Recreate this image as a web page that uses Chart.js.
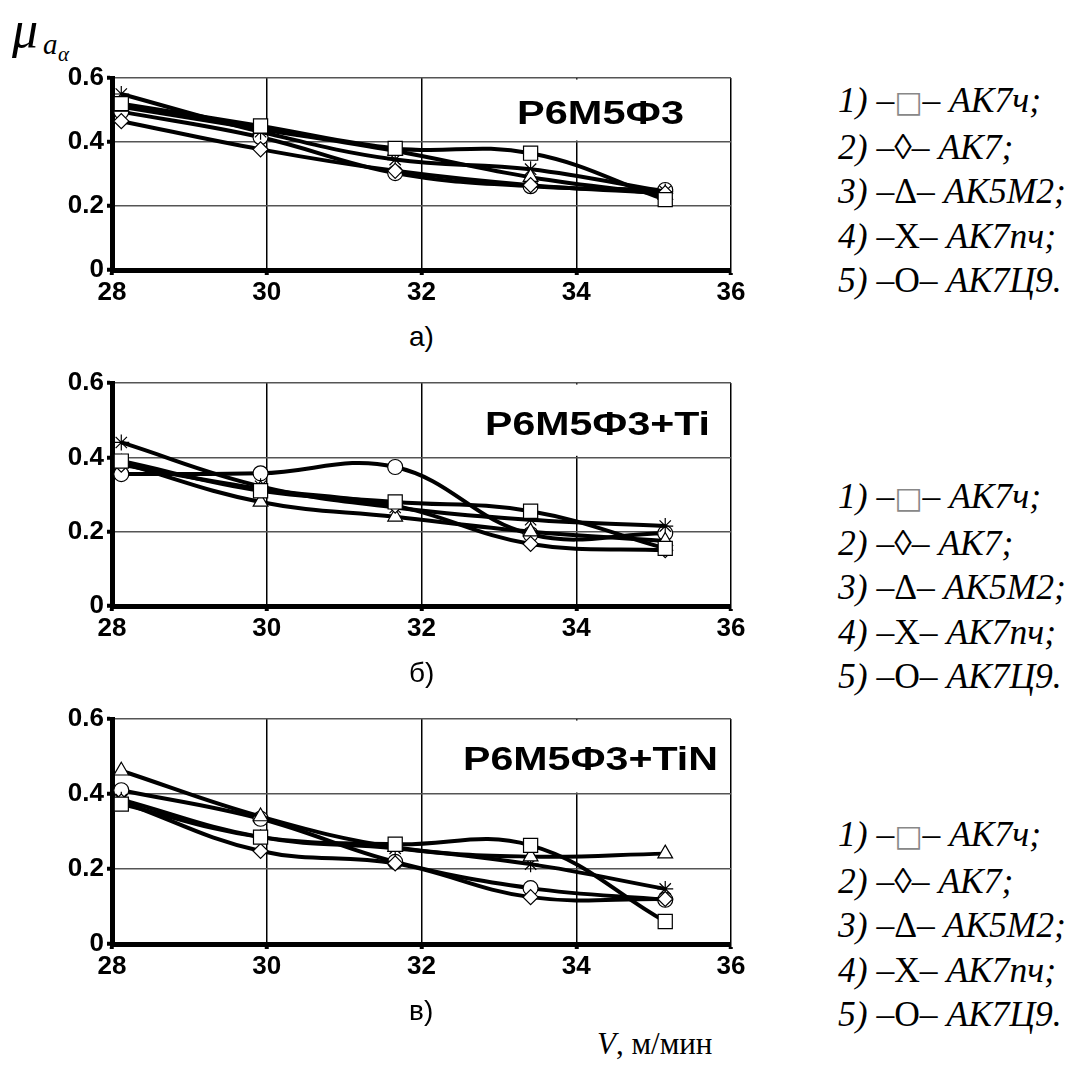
<!DOCTYPE html>
<html>
<head>
<meta charset="utf-8">
<script src="https://cdn.jsdelivr.net/npm/chart.js@4.4.1/dist/chart.umd.min.js"></script>
<style>
  html, body { margin: 0; padding: 0; background: #fff; }
  body { width: 1083px; height: 1070px; position: relative; overflow: hidden; }
  canvas { position: absolute; left: 0; }
  .sub { position: absolute; font-family: "Liberation Sans", Arial, sans-serif; font-size: 28px; color: #000; white-space: nowrap; }
  .legend { position: absolute; left: 838px; font-family: "Liberation Serif", "Times New Roman", serif; font-style: italic; font-size: 35.5px; line-height: 44.5px; color: #000; white-space: nowrap; }
  .legend .sym { font-style: normal; }
  .legend .sq { font-style: normal; color: #888; font-family: "DejaVu Sans", sans-serif; font-size: 30px; }
  .mu { position: absolute; left: 12px; top: 0px; font-family: "Liberation Serif", serif; font-style: italic; color: #000; }
  .vlabel { position: absolute; left: 597px; top: 1026px; font-family: "Liberation Serif", serif; font-size: 31px; color: #000; white-space: nowrap; }
</style>
</head>
<body>
<div class="mu"><span style="font-size:52px">μ</span><span style="position:absolute;left:31px;top:28px;font-size:29px">a</span><span style="position:absolute;left:46px;top:42px;font-size:21px">α</span></div>

<canvas id="chartA" width="760" height="252" style="top:58px"></canvas>
<canvas id="chartB" width="760" height="283" style="top:363px"></canvas>
<canvas id="chartC" width="760" height="285" style="top:699px"></canvas>

<div class="sub" style="left:409px;top:321px">а)</div>
<div class="sub" style="left:409px;top:657px">б)</div>
<div class="sub" style="left:409px;top:995px">в)</div>

<div class="legend" id="legendA" style="top:78px"></div>
<div class="legend" id="legendB" style="top:474px"></div>
<div class="legend" id="legendC" style="top:812px"></div>

<div class="vlabel"><i>V</i>, м/мин</div>

<script>
// скорость резания, м/мин
const speeds = [28.12, 29.92, 31.66, 33.41, 35.15];
const xTickLabels = ['28', '30', '32', '34', '36'];
const yTickLabels = ['0', '0.2', '0.4', '0.6'];

const alloyNames = ['АК7ч', 'АК7', 'АК5М2', 'АК7пч', 'АК7Ц9'];
const legendNums = ['1)', '2)', '3)', '4)', '5)'];
const legendSymbols = ['□', '◊', 'Δ', 'X', 'O'];

// а) Р6М5Ф3
const aAK7ch  = [0.52, 0.45, 0.38, 0.365, 0.22];
const aAK7    = [0.465, 0.377, 0.31, 0.265, 0.24];
const aAK5M2  = [0.51, 0.44, 0.372, 0.29, 0.235];
const aAK7pch = [0.55, 0.432, 0.345, 0.315, 0.245];
const aAK7C9  = [0.495, 0.415, 0.303, 0.262, 0.25];

// б) Р6М5Ф3+Ti
const bAK7ch  = [0.39, 0.31, 0.28, 0.255, 0.155];
const bAK7    = [0.38, 0.315, 0.27, 0.167, 0.15];
const bAK5M2  = [0.385, 0.28, 0.24, 0.2, 0.175];
const bAK7pch = [0.44, 0.322, 0.265, 0.232, 0.215];
const bAK7C9  = [0.355, 0.357, 0.374, 0.193, 0.196];

// в) Р6М5Ф3+TiN
const cAK7ch  = [0.373, 0.285, 0.266, 0.263, 0.06];
const cAK7    = [0.38, 0.248, 0.215, 0.125, 0.12];
const cAK5M2  = [0.462, 0.34, 0.258, 0.233, 0.241];
const cAK7pch = [0.385, 0.285, 0.255, 0.213, 0.147];
const cAK7C9  = [0.41, 0.334, 0.219, 0.149, 0.118];

// маркеры серий: квадрат, ромб, треугольник, звезда, круг
const markerStyles = ['rect', 'rectRot', 'triangle', 'star', 'circle'];
const markerRadius = [10, 7.5, 8.5, 8, 7.5];

// белая подложка под заголовком + сам заголовок
const titlePlugin = {
  id: 'panelTitle',
  beforeDatasetsDraw(chart, args, opts) {
    const { ctx, chartArea, scales } = chart;
    const y04 = scales.y.getPixelForValue(0.4);
    ctx.save();
    ctx.fillStyle = '#fff';
    ctx.fillRect(opts.left - 10, chartArea.top + 1.5, chartArea.right - 1.5 - (opts.left - 10), y04 - 1.5 - (chartArea.top + 1.5));
    ctx.font = 'bold ' + opts.size + 'px "Liberation Sans", Arial, sans-serif';
    ctx.fillStyle = '#000';
    ctx.textBaseline = 'alphabetic';
    const natural = ctx.measureText(opts.text).width;
    const sx = (opts.right - opts.left) / natural;
    ctx.translate(opts.left, opts.baseline - chart.canvas.offsetTop);
    ctx.scale(sx, 1);
    ctx.fillText(opts.text, 0, 0);
    ctx.restore();
  }
};

function makeDatasets(series) {
  return series.map((vals, i) => ({
    label: alloyNames[i],
    data: speeds.map((x, j) => ({ x, y: vals[j] })),
    borderColor: '#000',
    borderWidth: 4,
    tension: 0.4,
    fill: false,
    pointStyle: markerStyles[i],
    pointRadius: markerRadius[i],
    pointBackgroundColor: '#fff',
    pointBorderColor: '#000',
    pointBorderWidth: 1.2
  }));
}

function makePanel(id, series, title) {
  const tickFont = { family: '"Liberation Sans", Arial, sans-serif', size: 26, weight: 'bold' };
  return new Chart(document.getElementById(id), {
    type: 'line',
    data: { datasets: makeDatasets(series) },
    options: {
      responsive: false,
      animation: false,
      layout: { padding: { top: 20, right: 29, left: 0, bottom: 0 } },
      plugins: {
        legend: { display: false },
        tooltip: { enabled: false },
        panelTitle: title
      },
      scales: {
        x: {
          type: 'linear',
          min: 28, max: 36,
          afterFit: s => { s.height = 40; },
          ticks: {
            stepSize: 2, color: '#000', font: tickFont, padding: 2,
            callback: (v, i) => xTickLabels[i]
          },
          grid: { color: '#000', lineWidth: 1.5, tickLength: 5, tickWidth: 4, tickColor: '#000' },
          border: { color: '#000', width: 5 }
        },
        y: {
          min: 0, max: 0.6,
          afterFit: s => { s.width = 112; },
          ticks: {
            stepSize: 0.2, color: '#000', font: tickFont, padding: 3,
            callback: (v, i) => yTickLabels[i]
          },
          grid: { color: '#555', lineWidth: 1.5, tickLength: 5, tickWidth: 4, tickColor: '#000' },
          border: { color: '#000', width: 5 }
        }
      }
    },
    plugins: [titlePlugin]
  });
}

function fillLegend(id) {
  const el = document.getElementById(id);
  el.innerHTML = alloyNames.map((name, i) => {
    const sym = i === 0 ? `<span class="sq">${legendSymbols[i]}</span>` : `<span class="sym">${legendSymbols[i]}</span>`;
    const end = i === alloyNames.length - 1 ? '.' : ';';
    return `<div>${legendNums[i]} <span class="sym">–</span>${sym}<span class="sym">–</span> ${name}${end}</div>`;
  }).join('');
}

makePanel('chartA', [aAK7ch, aAK7, aAK5M2, aAK7pch, aAK7C9], { text: 'Р6М5Ф3', left: 517, right: 684, baseline: 124, size: 33 });
makePanel('chartB', [bAK7ch, bAK7, bAK5M2, bAK7pch, bAK7C9], { text: 'Р6М5Ф3+Ti', left: 485, right: 710, baseline: 435, size: 34 });
makePanel('chartC', [cAK7ch, cAK7, cAK5M2, cAK7pch, cAK7C9], { text: 'Р6М5Ф3+TiN', left: 463, right: 718, baseline: 770, size: 34 });

fillLegend('legendA');
fillLegend('legendB');
fillLegend('legendC');
</script>
</body>
</html>
